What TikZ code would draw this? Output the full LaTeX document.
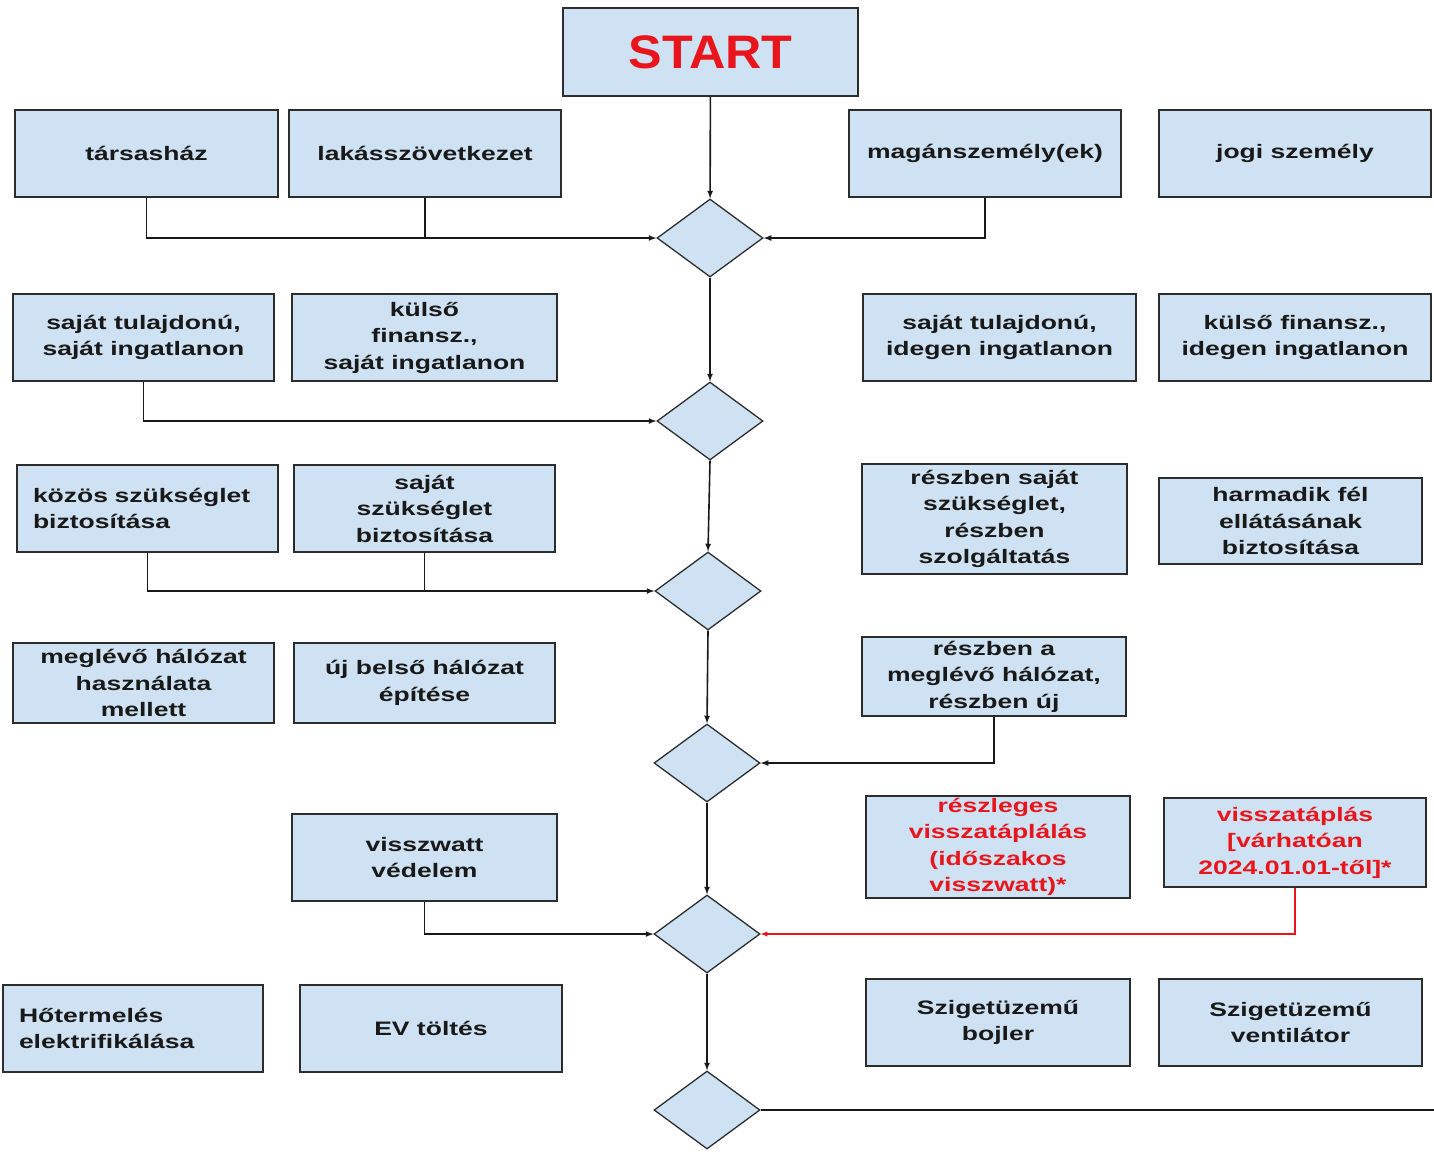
\documentclass[tikz,border=0pt]{standalone}
\usepackage{fontspec}
\usetikzlibrary{shapes.geometric}
\newfontfamily\boxfont{Liberation Sans}[FakeStretch=1.36]
\newfontfamily\startfont{Liberation Sans}[FakeStretch=1.07]
\definecolor{boxblue}{RGB}{207,226,243}
\definecolor{boxline}{RGB}{45,45,45}
\definecolor{flowred}{RGB}{232,22,28}
\begin{document}
\begin{tikzpicture}[x=1pt, y=-1pt,
    box/.style={draw=boxline, line width=1.3pt, fill=boxblue, align=center, inner sep=2pt,
        text=black!90, font=\boxfont\bfseries\fontsize{19.5}{26.5}\selectfont},
    leftbox/.style={box, align=left, inner xsep=16pt},
    redtext/.style={text=flowred},
    decision/.style={draw=boxline, line width=1.3pt, fill=boxblue, diamond, inner sep=0pt,
        minimum width=106pt, minimum height=78pt},
    link/.style={draw=black!90, line width=1.6pt, -latex},
    line/.style={draw=black!90, line width=1.6pt}]
        \useasboundingbox (0,0) rectangle (1434,1152);

        \node[box, minimum width=295pt, minimum height=88pt, text=flowred,
            font=\startfont\bfseries\fontsize{47}{50}\selectfont] (start) at (710.5,52) {START};

        \node[box, minimum width=263pt, minimum height=87pt] (tars) at (146.5,153.5) {társasház};
        \node[box, minimum width=272pt, minimum height=87pt] (lakas) at (425,153.5) {lakásszövetkezet};
        \node[box, minimum width=272pt, minimum height=87pt] (magan) at (985,153.5) {magánszemély(ek)};
        \node[box, minimum width=272pt, minimum height=87pt] (jogi) at (1295,153.5) {jogi személy};
        \node[decision] (d1) at (710,238) {};

        \node[box, minimum width=261pt, minimum height=87pt] (sajsaj) at (143.5,337.5) {saját tulajdonú,\\saját ingatlanon};
        \node[box, minimum width=265pt, minimum height=87pt] (kulsaj) at (424.5,337.5) {külső\\finansz.,\\saját ingatlanon};
        \node[box, minimum width=273pt, minimum height=87pt] (sajid) at (999.5,337.5) {saját tulajdonú,\\idegen ingatlanon};
        \node[box, minimum width=272pt, minimum height=87pt] (kulid) at (1295,337.5) {külső finansz.,\\idegen ingatlanon};
        \node[decision] (d2) at (710,421) {};

        \node[leftbox, text width=229pt, minimum height=87pt] (kozos) at (147.5,508.5) {közös szükséglet\\biztosítása};
        \node[box, minimum width=261pt, minimum height=87pt] (sajszuk) at (424.5,508.5) {saját\\szükséglet\\biztosítása};
        \node[box, minimum width=265pt, minimum height=110pt] (reszsz) at (994.5,519) {részben saját\\szükséglet,\\részben\\szolgáltatás};
        \node[box, minimum width=263pt, minimum height=86pt] (harmadik) at (1290.5,521) {harmadik fél\\ellátásának\\biztosítása};
        \node[decision] (d3) at (708,591) {};

        \node[box, minimum width=261pt, minimum height=80pt] (meglevo) at (143.5,683) {meglévő hálózat\\használata\\mellett};
        \node[box, minimum width=261pt, minimum height=80pt] (uj) at (424.5,683) {új belső hálózat\\építése};
        \node[box, minimum width=264pt, minimum height=79pt] (reszhal) at (994,676.5) {részben a\\meglévő hálózat,\\részben új};
        \node[decision] (d4) at (707,763) {};

        \node[box, minimum width=265pt, minimum height=87pt] (visszwatt) at (424.5,857.5) {visszwatt\\védelem};
        \node[box, redtext, minimum width=264pt, minimum height=102pt] (reszleges) at (998,847) {részleges\\visszatáplálás\\(időszakos\\visszwatt)*};
        \node[box, redtext, minimum width=262pt, minimum height=89pt] (visszatap) at (1295,842.5) {visszatáplás\\{[}várhatóan\\2024.01.01-től{]}*};
        \node[decision] (d5) at (707,934) {};

        \node[leftbox, text width=228pt, minimum height=87pt] (hoterm) at (133,1028.5) {Hőtermelés\\elektrifikálása};
        \node[box, minimum width=262pt, minimum height=87pt] (ev) at (431,1028.5) {EV töltés};
        \node[box, minimum width=264pt, minimum height=87pt] (bojler) at (998,1022.5) {Szigetüzemű\\bojler};
        \node[box, minimum width=263pt, minimum height=87pt] (vent) at (1290.5,1022.5) {Szigetüzemű\\ventilátor};
        \node[decision] (d6) at (707,1110) {};
        \coordinate (exit) at (1434,1110);

        \draw[link] (start) -- (d1);
        \foreach \a/\b in {d1/d2, d2/d3, d3/d4, d4/d5, d5/d6}
            \draw[link] (\a.south) -- (\b.north);

        \draw[link] (tars.south) |- (d1.west);
        \draw[line] (lakas.south) -- (lakas.south |- d1.west);
        \draw[link] (magan.south) |- (d1.east);
        \draw[link] (sajsaj.south) |- (d2.west);
        \draw[link] (kozos.south) |- (d3.west);
        \draw[line] (sajszuk.south) -- (sajszuk.south |- d3.west);
        \draw[link] (reszhal.south) |- (d4.east);
        \draw[link] (visszwatt.south) |- (d5.west);
        \draw[link, draw=flowred, line width=1.3pt] (visszatap.south) |- (d5.east);
        \draw[line] (d6.east) -- (exit);
    \end{tikzpicture}
\end{document}
